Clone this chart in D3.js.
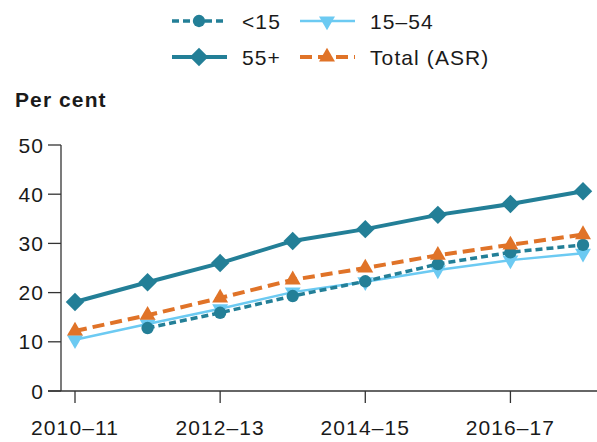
<!DOCTYPE html>
<html>
<head>
<meta charset="utf-8">
<script src="https://d3js.org/d3.v7.min.js"></script>
<style>
  body { margin: 0; background: #fff; }
  text { font-family: "Liberation Sans", Arial, sans-serif; fill: #1a1a1a; letter-spacing: 1.1px; }
</style>
</head>
<body>
<div id="chart"></div>
<script>
var years = ['2010–11','2011–12','2012–13','2013–14','2014–15','2015–16','2016–17','2017–18'];
var tickYears = ['2010–11','2012–13','2014–15','2016–17'];
var yTicks = [0, 10, 20, 30, 40, 50];

var under15 = [null, 12.8, 15.9, 19.3, 22.3, 25.8, 28.2, 29.7];
var age15to54 = [10.4, 13.6, 16.7, 20.1, 22.2, 24.6, 26.6, 28.0];
var age55plus = [18.1, 22.1, 26.0, 30.5, 32.9, 35.8, 38.0, 40.6];
var totalASR = [12.2, 15.4, 18.9, 22.6, 25.0, 27.6, 29.7, 31.8];

var teal = '#237f97', light = '#6ccaf2', orange = '#e07328';

var width = 597, height = 442;

var series = [
  { name: '15–54', values: age15to54, color: light, width: 2.5, dash: null, shape: 'down' },
  { name: '<15', values: under15, color: teal, width: 3.5, dash: '7,4', shape: 'circle' },
  { name: 'Total (ASR)', values: totalASR, color: orange, width: 4, dash: '12,6', shape: 'up' },
  { name: '55+', values: age55plus, color: teal, width: 4, dash: null, shape: 'diamond' }
];

var svg = d3.select('#chart')
  .append('svg')
  .attr('width', width)
  .attr('height', height);

var x = d3.scalePoint().domain(years).range([75, 583]);
var y = d3.scaleLinear().domain([0, 50]).range([391, 145]);

// axes
var yAxis = svg.append('g').attr('transform', 'translate(61,0)');
yAxis.append('line').attr('x1', 0).attr('x2', 0).attr('y1', y(50)).attr('y2', y(0))
  .attr('stroke', '#333').attr('stroke-width', 1.3);
yAxis.selectAll('.yt').data(yTicks).enter().append('line')
  .attr('x1', -13).attr('x2', 0)
  .attr('y1', function(d) { return y(d) }).attr('y2', function(d) { return y(d) })
  .attr('stroke', '#333').attr('stroke-width', 1.3);
yAxis.selectAll('.yl').data(yTicks).enter().append('text')
  .attr('x', -17).attr('y', function(d) { return y(d) })
  .attr('dy', '0.36em').attr('text-anchor', 'end')
  .style('font-size', '21px')
  .text(function(d) { return d });

var xAxis = svg.append('g');
xAxis.append('line').attr('x1', 48).attr('x2', width).attr('y1', y(0)).attr('y2', y(0))
  .attr('stroke', '#333').attr('stroke-width', 1.3);
xAxis.selectAll('.xt').data(tickYears).enter().append('line')
  .attr('x1', function(d) { return x(d) }).attr('x2', function(d) { return x(d) })
  .attr('y1', y(0)).attr('y2', y(0) + 12)
  .attr('stroke', '#333').attr('stroke-width', 1.3);
xAxis.selectAll('.xl').data(tickYears).enter().append('text')
  .attr('x', function(d) { return x(d) }).attr('y', 435)
  .attr('text-anchor', 'middle')
  .style('font-size', '21px')
  .text(function(d) { return d });

svg.append('text').attr('x', 15).attr('y', 107)
  .style('font-size', '21px').style('font-weight', 'bold')
  .text('Per cent');

function symbolFor(shape) {
  if (shape === 'circle') return d3.symbol().type(d3.symbolCircle).size(120);
  if (shape === 'diamond') return d3.symbol().type(d3.symbolSquare).size(170);
  return d3.symbol().type(d3.symbolTriangle).size(110);
}
function rotFor(shape) {
  if (shape === 'diamond') return ' rotate(45)';
  if (shape === 'down') return ' rotate(180)';
  return '';
}

var line = d3.line()
  .defined(function(d) { return d.v !== null })
  .x(function(d) { return x(d.k) })
  .y(function(d) { return y(d.v) });

series.forEach(function(s) {
  var pts = years.map(function(k, i) { return { k: k, v: s.values[i] } });
  svg.append('path')
    .datum(pts)
    .attr('d', line)
    .attr('fill', 'none')
    .attr('stroke', s.color)
    .attr('stroke-width', s.width)
    .attr('stroke-dasharray', s.dash);
  svg.selectAll(null).data(pts.filter(function(d) { return d.v !== null }))
    .enter().append('path')
    .attr('d', symbolFor(s.shape))
    .attr('transform', function(d) { return 'translate(' + x(d.k) + ',' + y(d.v) + ')' + rotFor(s.shape) })
    .attr('fill', s.color);
});

// legend
var legendItems = [
  { name: '<15', s: series[1], lx: 172, ly: 21 },
  { name: '15–54', s: series[0], lx: 300, ly: 21 },
  { name: '55+', s: series[3], lx: 172, ly: 57 },
  { name: 'Total (ASR)', s: series[2], lx: 300, ly: 57 }
];
var legend = svg.selectAll('.leg').data(legendItems).enter().append('g')
  .attr('transform', function(d) { return 'translate(' + d.lx + ',' + d.ly + ')' });
legend.append('line')
  .attr('x1', 0).attr('x2', 55).attr('y1', 0).attr('y2', 0)
  .attr('stroke', function(d) { return d.s.color })
  .attr('stroke-width', function(d) { return d.s.width })
  .attr('stroke-dasharray', function(d) { return d.s.dash });
legend.append('path')
  .attr('d', function(d) { return symbolFor(d.s.shape)() })
  .attr('transform', function(d) { return 'translate(27,0)' + rotFor(d.s.shape) })
  .attr('fill', function(d) { return d.s.color });
legend.append('text')
  .attr('x', 70).attr('y', 0).attr('dy', '0.36em')
  .style('font-size', '21px')
  .text(function(d) { return d.name });
</script>
</body>
</html>
